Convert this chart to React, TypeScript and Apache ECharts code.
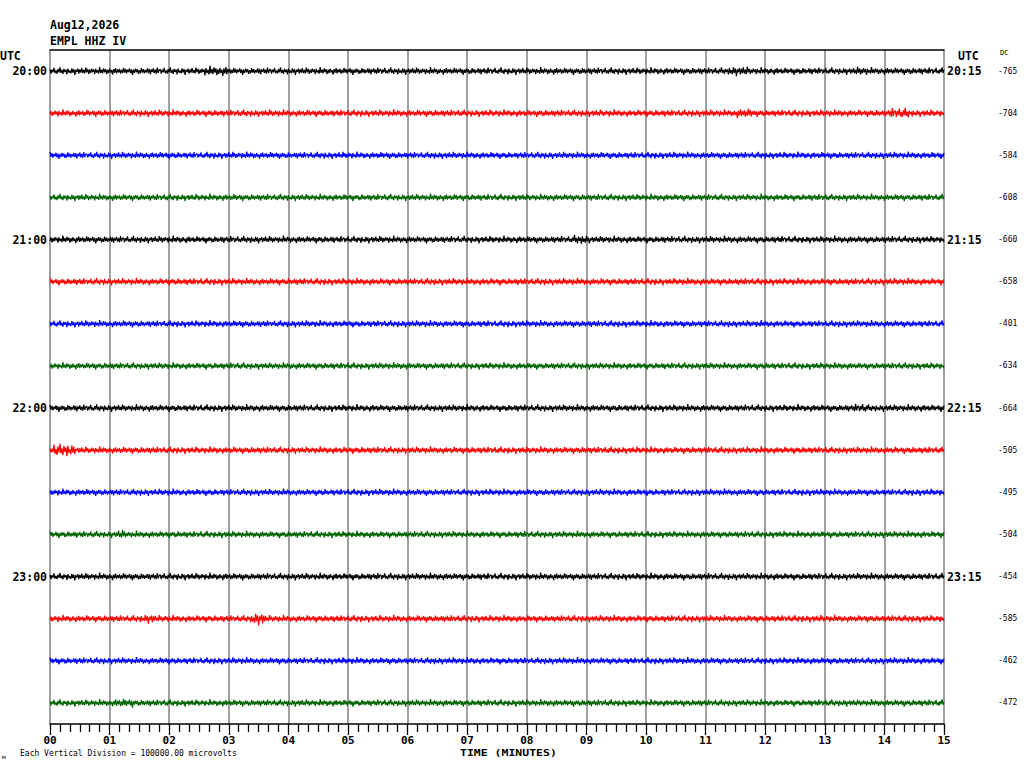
import React, { useEffect, useRef } from "react";
import * as echarts from "echarts";

const TITLE_DATE = "Aug12,2026";
const TITLE_STATION = "EMPL HHZ IV";
const X_TICK_LABELS = ["00","01","02","03","04","05","06","07","08","09","10","11","12","13","14","15"];
const LEFT_LABELS = ["20:00","","","","21:00","","","","22:00","","","","23:00","","",""];
const RIGHT_LABELS = ["20:15","","","","21:15","","","","22:15","","","","23:15","","",""];
const DC_LABELS = ["-765","-704","-584","-608","-660","-658","-401","-634","-664","-505","-495","-504","-454","-585","-462","-472"];
const TRACE_COLORS = ["#000000", "#ff0000", "#0000ff", "#006400"];
// microvolts per vertical division (one trace row)
const DIVISION_UV = 100000;
// baseline noise half-amplitude per trace (microvolts)
const BASE_AMP = [9500, 9500, 9200, 9200, 9500, 9500, 9200, 9200, 9500, 9500, 9200, 9200, 9500, 9500, 9200, 9200];
// bursts: [trace, startMinute, endMinute, amplitude µV]
const EVENTS: [number, number, number, number][] = [
  [0, 2.6, 3.0, 13000],
  [0, 11.4, 11.7, 12500],
  [0, 13.5, 13.7, 11500],
  [1, 11.5, 11.8, 12500],
  [1, 14.1, 14.4, 14000],
  [4, 8.8, 9.0, 12500],
  [8, 13.5, 13.7, 12000],
  [9, 0.05, 0.4, 17000],
  [11, 1.15, 1.25, 12500],
  [13, 1.6, 1.75, 12500],
  [13, 3.4, 3.6, 17000],
  [15, 1.1, 1.4, 12000],
];
// fixed hand-typed noise texture
const NOISE = [0.42,-0.61,0.35,-0.28,0.77,-0.52,0.18,-0.66,0.49,-0.33,0.91,-0.45,0.27,-0.71,0.56,-0.24,0.38,-0.83,0.62,-0.41,0.15,-0.57,0.69,-0.36,0.47,-0.95,0.31,-0.22,0.58,-0.64,0.44,-0.39,0.73,-0.48,0.26,-0.59,0.87,-0.31,0.52,-0.68,0.34,-0.45,0.63,-0.27,0.41,-0.78,0.55,-0.37,0.21,-0.62,0.98,-0.43,0.36,-0.54,0.67,-0.29,0.48,-0.74,0.32,-0.51,0.59,-0.35,0.24,-0.88,0.46,-0.42,0.71,-0.56,0.39,-0.3,0.53,-0.65,0.28,-0.47,0.81,-0.38,0.57,-0.6,0.33,-0.25,0.66,-0.5,0.43,-0.93,0.37,-0.44,0.61,-0.32,0.5,-0.69,0.22,-0.55,0.76,-0.4,0.45,-0.58,0.3,-0.34,0.64,-0.49,0.54,-0.8,0.4,-0.26,0.68,-0.53,0.35,-0.63,0.85,-0.46,0.29];
const SAMPLES_PER_MIN = 60;
const MINUTES = 15;

const MONO = "'DejaVu Sans Mono', 'Liberation Mono', monospace";

function buildTrace(i: number): number[][] {
  const pts: number[][] = [];
  const n = MINUTES * SAMPLES_PER_MIN;
  for (let k = 0; k <= n; k++) {
    const t = k / SAMPLES_PER_MIN;
    let amp = BASE_AMP[i];
    for (const ev of EVENTS) {
      if (ev[0] === i && t >= ev[1] && t <= ev[2]) amp = Math.max(amp, ev[3]);
    }
    const v = NOISE[(k + i * 37) % NOISE.length];
    pts.push([t, i + 0.5 - (v * amp) / DIVISION_UV]);
  }
  return pts;
}

export default function App() {
  const ref = useRef<HTMLDivElement>(null);
  useEffect(() => {
    if (!ref.current) return;
    const chart = echarts.init(ref.current, undefined, { renderer: "svg" });
    const series = LEFT_LABELS.map((_, i) => ({
      type: "line",
      xAxisIndex: 0,
      yAxisIndex: 0,
      data: buildTrace(i),
      showSymbol: false,
      symbol: "none",
      silent: true,
      lineStyle: { color: TRACE_COLORS[i % 4], width: 1.2 },
      emphasis: { disabled: true },
    }));
    chart.setOption({
      animation: false,
      grid: { left: 50, top: 50, width: 894, height: 674, containLabel: false, show: false },
      xAxis: [
        {
          type: "value",
          min: 0,
          max: 15,
          interval: 1,
          position: "bottom",
          axisLine: { show: true, onZero: false, lineStyle: { color: "#000", width: 1.5 } },
          axisTick: { show: true, inside: false, length: 11, lineStyle: { color: "#000", width: 1.3 } },
          minorTick: { show: true, splitNumber: 6, length: 8, lineStyle: { color: "#000", width: 1.3 } },
          splitLine: { show: true, lineStyle: { color: "#808080", width: 1.5 } },
          axisLabel: {
            show: true,
            margin: 11,
            showMinLabel: true,
            showMaxLabel: true,
            fontFamily: MONO,
            fontWeight: "bold",
            fontSize: 11,
            color: "#000",
            formatter: (v: number) => X_TICK_LABELS[Math.round(v)],
          },
        },
        {
          type: "value",
          min: 0,
          max: 15,
          interval: 1,
          position: "top",
          axisLine: { show: true, onZero: false, lineStyle: { color: "#000", width: 1.5 } },
          axisTick: { show: false },
          minorTick: { show: false },
          axisLabel: { show: false },
          splitLine: { show: false },
        },
      ],
      yAxis: [
        { type: "value", min: 0, max: 16, inverse: true, show: false },
        {
          type: "category",
          position: "left",
          inverse: true,
          data: LEFT_LABELS,
          axisLine: { show: false },
          axisTick: { show: false },
          splitLine: { show: false },
          axisLabel: { interval: 0, margin: 3, fontFamily: MONO, fontWeight: "bold", fontSize: 11.5, color: "#000" },
        },
        {
          type: "category",
          position: "right",
          inverse: true,
          data: RIGHT_LABELS,
          axisLine: { show: false },
          axisTick: { show: false },
          splitLine: { show: false },
          axisLabel: { interval: 0, margin: 3, fontFamily: MONO, fontWeight: "bold", fontSize: 11.5, color: "#000" },
        },
        {
          type: "category",
          position: "right",
          offset: 54,
          inverse: true,
          data: DC_LABELS,
          axisLine: { show: false },
          axisTick: { show: false },
          splitLine: { show: false },
          axisLabel: { interval: 0, margin: 0, fontFamily: MONO, fontSize: 8, color: "#000" },
        },
      ],
      graphic: [
        { type: "text", left: 50, top: 19, style: { text: TITLE_DATE, font: `bold 11.5px ${MONO}`, fill: "#000" } },
        { type: "text", left: 50, top: 35, style: { text: TITLE_STATION, font: `bold 11.5px ${MONO}`, fill: "#000" } },
        { type: "text", left: 0, top: 50, style: { text: "UTC", font: `bold 11.5px ${MONO}`, fill: "#000" } },
        { type: "text", left: 958, top: 50, style: { text: "UTC", font: `bold 11.5px ${MONO}`, fill: "#000" } },
        { type: "text", left: 1000, top: 49, style: { text: "DC", font: `7px ${MONO}`, fill: "#000" } },
        { type: "text", x: 460, y: 748, scaleY: 0.8, style: { text: "TIME (MINUTES)", font: `bold 11.5px ${MONO}`, fill: "#000" } },
        { type: "text", left: 20, top: 749, style: { text: "Each Vertical Division = 100000.00 microvolts", font: `8px ${MONO}`, fill: "#000" } },
        { type: "text", left: 2, top: 753, style: { text: "\u043c", font: `6px ${MONO}`, fill: "#000" } },
      ],
      series,
    });
    return () => chart.dispose();
  }, []);
  return (
    <div
      ref={ref}
      style={{ position: "absolute", left: 0, top: 0, width: 1024, height: 768, background: "#fff" }}
    />
  );
}
